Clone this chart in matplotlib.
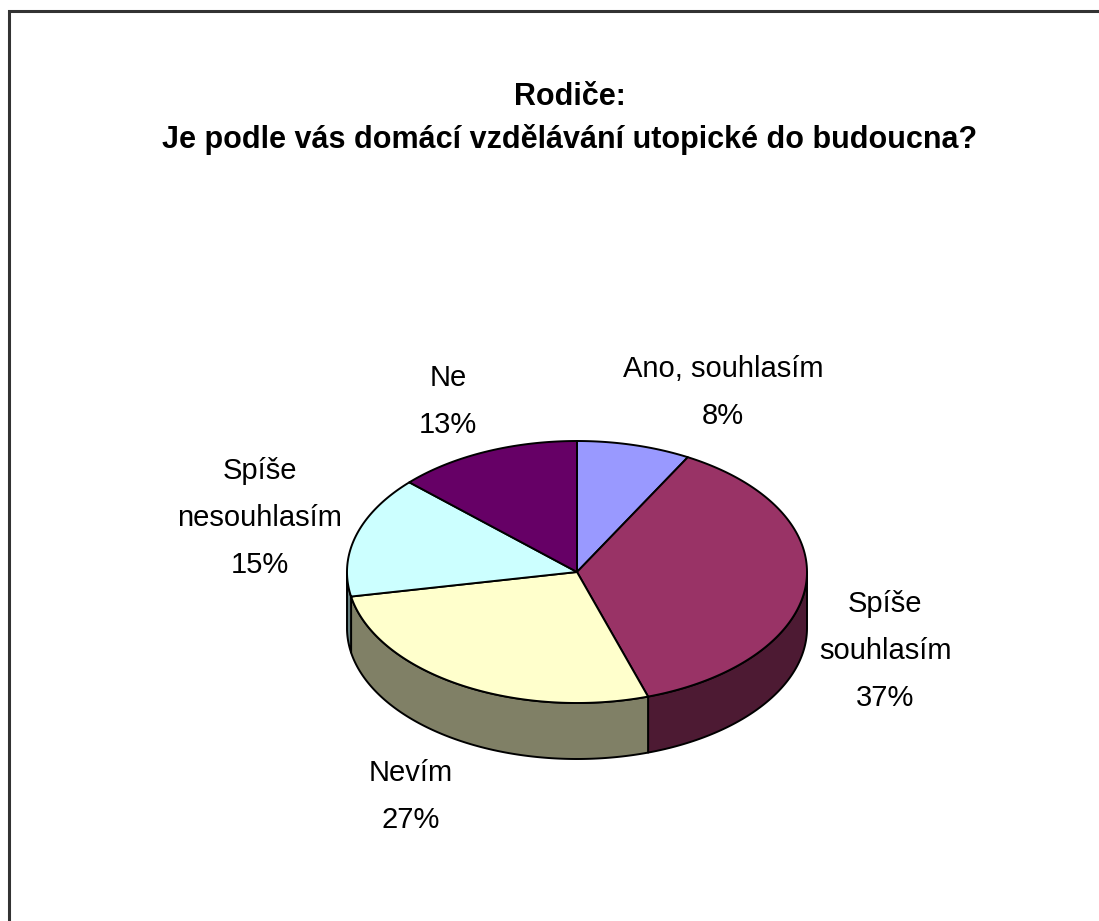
import numpy as np
import matplotlib.pyplot as plt
from matplotlib.patches import Polygon
from matplotlib import colors as mcolors

plt.rcParams['font.family'] = ['Liberation Sans', 'DejaVu Sans']

title_lines = ['Rodiče:', 'Je podle vás domácí vzdělávání utopické do budoucna?']
labels = ['Ano, souhlasím', 'Spíše\nsouhlasím', 'Nevím', 'Spíše\nnesouhlasím', 'Ne']
values = [8, 37, 27, 15, 13]
face_colors = ['#9999FF', '#993366', '#FFFFCC', '#CCFFFF', '#660066']

# where each label sits: centre x, baseline of its first line
label_pos = [(723, 377), (885, 612), (411, 781), (260, 479), (448, 386)]

fig = plt.figure(figsize=(10.99, 9.21), dpi=100)
ax = fig.add_axes([0, 0, 1, 1])
ax.set_xlim(0, 1099)
ax.set_ylim(921, 0)
ax.axis('off')

# outer frame (right and bottom edges fall off the page)
ax.plot([8.5, 8.5, 1099], [921, 11.5, 11.5], color='#333333', lw=2.2,
        solid_joinstyle='miter')

# tilted pie: centre, radii and thickness
cx, cy, rx, ry, depth = 577, 572, 230, 131, 56


def rim(t0, t1, dy=0.0, n=200):
    # points on the ellipse, angle measured clockwise from 12 o'clock
    t = np.radians(np.linspace(t0, t1, n))
    return np.column_stack([cx + rx * np.sin(t), cy - ry * np.cos(t) + dy])


total = sum(values)
edges = np.concatenate([[0], np.cumsum(values)]) / total * 360

# side walls, only the front half (90..270) can be seen
for i in range(len(values)):
    a, b = max(edges[i], 90), min(edges[i + 1], 270)
    if b <= a:
        continue
    side = np.array(mcolors.to_rgb(face_colors[i])) * 0.5
    pts = np.vstack([rim(a, b), rim(b, a, depth)])
    ax.add_patch(Polygon(pts, closed=True, fc=side, ec='black', lw=1.4,
                         joinstyle='round'))

# top faces
for i in range(len(values)):
    pts = np.vstack([[cx, cy], rim(edges[i], edges[i + 1])])
    ax.add_patch(Polygon(pts, closed=True, fc=face_colors[i], ec='black',
                         lw=1.4, joinstyle='round'))

# data labels, one text per line so the spacing stays even
for name, v, (x, y) in zip(labels, values, label_pos):
    lines = name.split('\n') + ['%d%%' % v]
    for k, line in enumerate(lines):
        ax.text(x, y + k * 47, line, ha='center', va='baseline', fontsize=21)

for k, line in enumerate(title_lines):
    ax.text(570, 105 + k * 43, line, ha='center', va='baseline',
            fontsize=22, fontweight='bold')

fig.savefig('out.png', dpi=100, facecolor='white')
